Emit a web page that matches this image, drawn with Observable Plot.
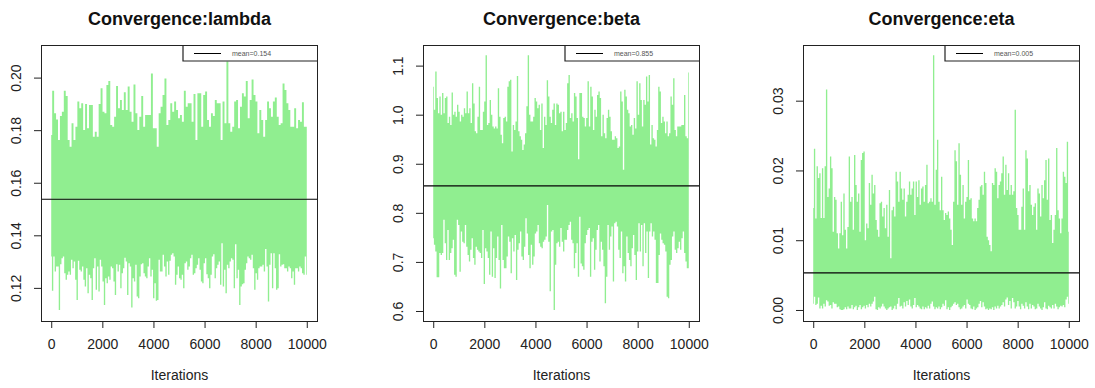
<!DOCTYPE html>
<html><head><meta charset="utf-8">
<script src="https://cdn.jsdelivr.net/npm/d3@7"></script>
<script src="https://cdn.jsdelivr.net/npm/@observablehq/plot@0.6"></script>
<style>
html,body{margin:0;padding:0;background:#fff;overflow:hidden;}
#wrap{position:relative;width:1095px;height:388px;}
#wrap svg{position:absolute;top:0;}
</style></head><body><div id="wrap"></div>
<script>
// ---- text ----
const titles = ["Convergence:lambda", "Convergence:beta", "Convergence:eta"];
const legendLabels = ["mean=0.154", "mean=0.855", "mean=0.005"];
const xLabel = "Iterations";
const xTicks = [0, 2000, 4000, 6000, 8000, 10000];

// ---- lambda ----
const lambdaTicks = [0.12, 0.14, 0.16, 0.18, 0.20];
const lambdaMean = 0.1539;
const lambdaHigh = [
0.1782,0.1950,0.1864,0.1841,0.1763,0.1854,0.1870,0.1950,0.1930,0.1763,
0.1737,0.1826,0.1763,0.1813,0.1909,0.1883,0.1902,0.1801,0.1900,0.1807,
0.1896,0.1896,0.1775,0.1794,0.1775,0.1900,0.1959,0.1870,0.1864,0.1972,
0.1987,0.1820,0.1813,0.1851,0.1968,0.1883,0.1915,0.1877,0.1944,0.1877,
0.1966,0.1870,0.1832,0.1974,0.1864,0.1801,0.1851,0.1930,0.1813,0.1858,
0.1858,0.1858,0.2016,0.1807,0.1807,0.1737,0.1864,0.1889,0.1934,0.1997,
0.1820,0.1839,0.1902,0.1870,0.1909,0.1877,0.1845,0.1858,0.1832,0.1950,
0.1889,0.1902,0.1902,0.1832,0.1938,0.1763,0.1940,0.1940,0.1813,0.1934,
0.1947,0.1839,0.1813,0.1864,0.1854,0.1915,0.1902,0.1902,0.1763,0.1909,
0.1826,0.2061,0.1826,0.1794,0.1813,0.1909,0.1915,0.1807,0.1889,0.1940,
0.1928,0.1987,0.1845,0.1915,0.1993,0.1934,0.1909,0.1788,0.1877,0.1839,
0.1775,0.1839,0.1909,0.1883,0.1851,0.1909,0.1924,0.1851,0.1820,0.1826,
0.1978,0.1953,0.1902,0.1877,0.1813,0.1813,0.1883,0.1807,0.1839,0.1832,
0.1906,0.1813,0.1813];
const lambdaLow = [
0.1319,0.1189,0.1319,0.1262,0.1281,0.1281,0.1116,0.1290,0.1313,0.1319,
0.1256,0.1231,0.1250,0.1262,0.1250,0.1307,0.1275,0.1300,0.1231,0.1154,
0.1303,0.1269,0.1262,0.1281,0.1231,0.1205,0.1275,0.1180,0.1250,0.1237,
0.1154,0.1275,0.1313,0.1193,0.1281,0.1186,0.1307,0.1281,0.1224,0.1135,
0.1237,0.1218,0.1243,0.1231,0.1281,0.1275,0.1224,0.1173,0.1290,0.1262,
0.1288,0.1199,0.1256,0.1275,0.1315,0.1300,0.1173,0.1294,0.1281,0.1125,
0.1237,0.1224,0.1288,0.1167,0.1161,0.1243,0.1290,0.1294,0.1256,0.1243,
0.1237,0.1281,0.1313,0.1243,0.1269,0.1161,0.1218,0.1151,0.1154,0.1307,
0.1262,0.1262,0.1326,0.1281,0.1243,0.1300,0.1250,0.1303,0.1326,0.1332,
0.1319,0.1212,0.1250,0.1281,0.1237,0.1231,0.1250,0.1199,0.1294,0.1300,
0.1269,0.1281,0.1313,0.1326,0.1250,0.1256,0.1275,0.1288,0.1313,0.1269,
0.1224,0.1218,0.1294,0.1313,0.1252,0.1237,0.1199,0.1250,0.1319,0.1328,
0.1237,0.1275,0.1288,0.1300,0.1212,0.1370,0.1205,0.1269,0.1180,0.1288,
0.1275,0.1300,0.1313,0.1307,0.1199,0.1366,0.1237,0.1269,0.1135,0.1205,
0.1214,0.1218,0.1269,0.1294,0.1319,0.1313,0.1307,0.1326,0.1275,0.1193,
0.1256,0.1231,0.1275,0.1281,0.1281,0.1288,0.1262,0.1348,0.1281,0.1148,
0.1288,0.1332,0.1199,0.1332,0.1275,0.1193,0.1199,0.1328,0.1281,0.1288,
0.1290,0.1275,0.1275,0.1262,0.1281,0.1275,0.1237,0.1262,0.1212,0.1275,
0.1275,0.1262,0.1281,0.1275,0.1256,0.1250,0.1319,0.1250];

// ---- beta ----
const betaTicks = [0.6, 0.7, 0.8, 0.9, 1.0, 1.1];
const betaMean = 0.856;
const betaHigh = [
1.057,1.010,1.088,1.034,1.003,1.037,1.000,1.044,1.003,1.034,
1.037,0.983,0.996,0.979,1.045,1.000,1.006,0.996,1.020,1.006,
0.986,1.000,0.996,1.013,1.003,1.047,1.003,1.013,0.983,1.064,
1.023,0.966,0.962,0.996,1.057,0.969,0.969,1.006,1.027,1.121,
0.979,0.983,1.030,1.000,0.976,0.972,0.976,0.972,1.054,0.996,
0.959,0.942,0.993,0.996,0.986,1.057,1.068,1.071,0.925,0.979,
0.969,0.986,1.079,0.966,0.956,0.949,0.928,0.939,0.962,1.017,
1.121,1.000,0.986,0.986,0.996,1.034,1.027,1.013,1.020,0.969,
1.023,0.932,0.996,0.979,1.070,1.037,0.996,0.983,1.010,1.023,
0.979,1.023,1.020,1.003,1.006,0.966,1.006,0.969,0.983,1.064,
1.081,0.993,1.003,0.986,1.044,1.037,0.993,0.909,1.044,1.044,
0.996,0.993,0.976,0.993,1.068,0.976,1.057,1.037,0.969,1.010,
0.996,1.040,1.047,1.034,0.956,1.000,0.962,0.952,0.993,1.010,
0.996,0.966,0.949,0.949,0.956,0.952,0.932,0.935,1.047,1.027,
0.888,1.051,1.037,1.010,1.003,0.976,0.979,0.959,0.993,0.972,
1.068,1.000,1.064,1.030,0.976,1.030,1.020,1.078,1.027,1.081,
0.939,0.979,0.952,0.949,0.935,0.969,1.057,1.047,0.983,0.996,
0.986,0.962,0.986,0.956,0.962,1.037,1.020,1.074,0.969,0.956,
0.976,0.976,0.976,0.979,0.979,1.040,0.956,0.952,1.086];
const betaLow = [
0.748,0.735,0.721,0.669,0.669,0.718,0.714,0.718,0.786,0.738,
0.704,0.765,0.704,0.718,0.728,0.745,0.674,0.670,0.786,0.775,
0.680,0.762,0.741,0.738,0.775,0.731,0.714,0.701,0.725,0.748,
0.708,0.694,0.731,0.725,0.721,0.718,0.708,0.765,0.655,0.728,
0.721,0.708,0.674,0.762,0.670,0.728,0.667,0.708,0.752,0.704,
0.646,0.775,0.704,0.687,0.687,0.711,0.752,0.741,0.677,0.748,
0.721,0.755,0.663,0.725,0.738,0.762,0.711,0.704,0.731,0.789,
0.758,0.714,0.687,0.735,0.694,0.711,0.758,0.762,0.775,0.738,
0.731,0.728,0.741,0.745,0.752,0.816,0.741,0.640,0.762,0.765,
0.602,0.694,0.738,0.741,0.731,0.769,0.741,0.721,0.745,0.745,
0.765,0.775,0.782,0.745,0.738,0.687,0.718,0.738,0.670,0.792,
0.697,0.691,0.684,0.738,0.755,0.765,0.769,0.670,0.741,0.748,
0.684,0.725,0.765,0.775,0.701,0.741,0.725,0.691,0.616,0.670,
0.775,0.725,0.752,0.772,0.660,0.779,0.782,0.772,0.725,0.708,
0.762,0.677,0.691,0.660,0.752,0.718,0.704,0.691,0.728,0.755,
0.714,0.663,0.721,0.779,0.721,0.775,0.691,0.779,0.718,0.762,
0.667,0.762,0.779,0.752,0.762,0.745,0.657,0.657,0.714,0.758,
0.745,0.738,0.735,0.721,0.629,0.626,0.694,0.704,0.752,0.762,
0.725,0.718,0.728,0.741,0.725,0.748,0.762,0.718,0.701,0.687,
0.687];

// ---- eta ----
const etaTicks = [0.00, 0.01, 0.02, 0.03];
const etaMean = 0.0054;
const etaHigh = [
0.0146,0.0231,0.0131,0.0206,0.0189,0.0196,0.0132,0.0203,0.0132,0.0206,
0.0316,0.0162,0.0174,0.0220,0.0203,0.0112,0.0162,0.0158,0.0110,0.0088,
0.0110,0.0155,0.0107,0.0167,0.0115,0.0088,0.0119,0.0220,0.0155,0.0162,
0.0115,0.0222,0.0179,0.0155,0.0167,0.0112,0.0215,0.0225,0.0227,0.0100,
0.0124,0.0117,0.0182,0.0151,0.0194,0.0167,0.0179,0.0129,0.0115,0.0105,
0.0153,0.0155,0.0134,0.0146,0.0117,0.0151,0.0105,0.0172,0.0074,0.0143,
0.0148,0.0134,0.0198,0.0184,0.0155,0.0198,0.0174,0.0158,0.0174,0.0134,
0.0155,0.0165,0.0184,0.0165,0.0174,0.0184,0.0136,0.0184,0.0162,0.0186,
0.0151,0.0174,0.0177,0.0155,0.0179,0.0208,0.0153,0.0155,0.0160,0.0155,
0.0365,0.0151,0.0201,0.0244,0.0155,0.0143,0.0191,0.0143,0.0129,0.0139,
0.0136,0.0141,0.0131,0.0115,0.0093,0.0155,0.0229,0.0213,0.0151,0.0239,
0.0194,0.0151,0.0179,0.0131,0.0155,0.0162,0.0215,0.0158,0.0160,0.0131,
0.0127,0.0131,0.0127,0.0146,0.0158,0.0177,0.0179,0.0165,0.0198,0.0182,
0.0105,0.0100,0.0093,0.0084,0.0182,0.0179,0.0203,0.0198,0.0160,0.0179,
0.0184,0.0196,0.0220,0.0165,0.0208,0.0172,0.0196,0.0165,0.0179,0.0165,
0.0170,0.0287,0.0146,0.0136,0.0115,0.0115,0.0148,0.0174,0.0115,0.0229,
0.0217,0.0170,0.0179,0.0151,0.0136,0.0148,0.0153,0.0115,0.0174,0.0167,
0.0134,0.0179,0.0160,0.0186,0.0215,0.0158,0.0217,0.0129,0.0136,0.0096,
0.0115,0.0136,0.0232,0.0143,0.0131,0.0110,0.0131,0.0198,0.0191,0.0182,
0.0241,0.0112];
const etaLow = [
0.0009,0.0019,0.0007,0.0009,0.0018,0.0002,0.0006,0.0002,0.0009,0.0005,
0.0014,0.0012,0.0006,0.0007,0.0002,0.0011,0.0009,0.0009,0.0004,0.0005,
0.0001,0.0000,0.0000,0.0001,0.0004,0.0001,0.0005,0.0002,0.0002,0.0007,
0.0001,0.0004,0.0006,0.0000,0.0004,0.0007,0.0001,0.0004,0.0006,0.0002,
0.0007,0.0004,0.0009,0.0005,0.0009,0.0012,0.0019,0.0001,0.0000,0.0004,
0.0002,0.0005,0.0009,0.0005,0.0002,0.0000,0.0002,0.0004,0.0005,0.0000,
0.0002,0.0006,0.0001,0.0009,0.0017,0.0005,0.0006,0.0002,0.0011,0.0005,
0.0013,0.0007,0.0015,0.0005,0.0002,0.0007,0.0017,0.0004,0.0007,0.0005,
0.0002,0.0001,0.0005,0.0001,0.0004,0.0002,0.0006,0.0002,0.0009,0.0012,
0.0005,0.0001,0.0004,0.0002,0.0005,0.0001,0.0004,0.0009,0.0006,0.0014,
0.0001,0.0004,0.0000,0.0004,0.0006,0.0009,0.0011,0.0007,0.0009,0.0004,
0.0001,0.0002,0.0005,0.0007,0.0002,0.0015,0.0009,0.0007,0.0002,0.0001,
0.0005,0.0000,0.0002,0.0004,0.0009,0.0013,0.0004,0.0011,0.0005,0.0001,
0.0002,0.0000,0.0002,0.0001,0.0004,0.0000,0.0005,0.0002,0.0006,0.0002,
0.0005,0.0007,0.0011,0.0005,0.0015,0.0018,0.0007,0.0013,0.0002,0.0017,
0.0011,0.0002,0.0005,0.0013,0.0005,0.0001,0.0009,0.0006,0.0002,0.0011,
0.0005,0.0001,0.0009,0.0002,0.0007,0.0005,0.0001,0.0002,0.0009,0.0005,
0.0002,0.0000,0.0004,0.0011,0.0002,0.0001,0.0006,0.0004,0.0002,0.0007,
0.0002,0.0009,0.0005,0.0001,0.0004,0.0006,0.0005,0.0007,0.0004,0.0015,
0.0019,0.0009];

const panels = [
  {title: titles[0], legend: legendLabels[0], hi: lambdaHigh, lo: lambdaLow, mean: lambdaMean, ticks: lambdaTicks, dec: 2, domain: [0.1074, 0.2124], left: 0},
  {title: titles[1], legend: legendLabels[1], hi: betaHigh, lo: betaLow, mean: betaMean, ticks: betaTicks, dec: 1, domain: [0.5796, 1.142], left: 381.7},
  {title: titles[2], legend: legendLabels[2], hi: etaHigh, lo: etaLow, mean: etaMean, ticks: etaTicks, dec: 2, domain: [-0.00158, 0.03798], left: 762.3}
];

const ML = 41, MT = 45, IW = 276, IH = 276, W = 333, H = 388;
const traceColor = "#90EE90";
const wrap = document.getElementById("wrap");

for (const p of panels) {
  // per-column extremes of the trace, placed evenly along the iterations
  const hiPts = p.hi.map((v, i) => ({it: i / (p.hi.length - 1) * 10000, v}));
  const loPts = p.lo.map((v, i) => ({it: i / (p.lo.length - 1) * 10000, v}));

  const plot = Plot.plot({
    width: W, height: H,
    marginTop: MT, marginBottom: H - MT - IH, marginLeft: ML, marginRight: W - ML - IW,
    style: {fontFamily: "'Liberation Sans', Arial, sans-serif", fontSize: "14px", color: "#222", background: "transparent"},
    x: {domain: [-400, 10400]},
    y: {domain: p.domain},
    marks: [
      Plot.areaY(hiPts, {x: "it", y1: p.mean, y2: "v", curve: "step", fill: traceColor}),
      Plot.areaY(loPts, {x: "it", y1: "v", y2: p.mean, curve: "step", fill: traceColor}),
      Plot.ruleY([p.mean], {stroke: "#000", strokeWidth: 1.2}),
      Plot.frame({stroke: "#222", strokeWidth: 1}),
      Plot.axisX({ticks: xTicks, tickSize: 7, tickPadding: 11, tickFormat: d => String(d), label: null, fontSize: 14}),
      Plot.axisY({ticks: p.ticks, tickSize: 7, tickPadding: 14, tickRotate: -90, tickFormat: d => d.toFixed(p.dec), label: null, fontSize: 14}),
      Plot.text([p.title], {text: d => d, frameAnchor: "top", dy: -33, fontSize: 18, fontWeight: "bold", fill: "#111"}),
      Plot.text([xLabel], {text: d => d, frameAnchor: "bottom", dy: 58, fontSize: 14})
    ]
  });

  // legend box (top-right of the frame)
  const svg = d3.select(plot);
  const right = ML + IW, bl = right - 134, top = MT, ly = top + 8.5;
  const g = svg.append("g");
  g.append("path").attr("d", `M${bl},${top}V${top + 16}H${right}`).attr("fill", "none").attr("stroke", "#222").attr("stroke-width", 1.2);
  g.append("line").attr("x1", bl + 11).attr("x2", bl + 38).attr("y1", ly).attr("y2", ly).attr("stroke", "#000").attr("stroke-width", 1);
  g.append("text").attr("x", bl + 49).attr("y", ly).attr("dy", "0.35em").attr("text-anchor", "start")
    .attr("font-size", 7).attr("fill", "#555").text(p.legend);

  plot.style.left = p.left + "px";
  wrap.appendChild(plot);
}
</script>
</body></html>
